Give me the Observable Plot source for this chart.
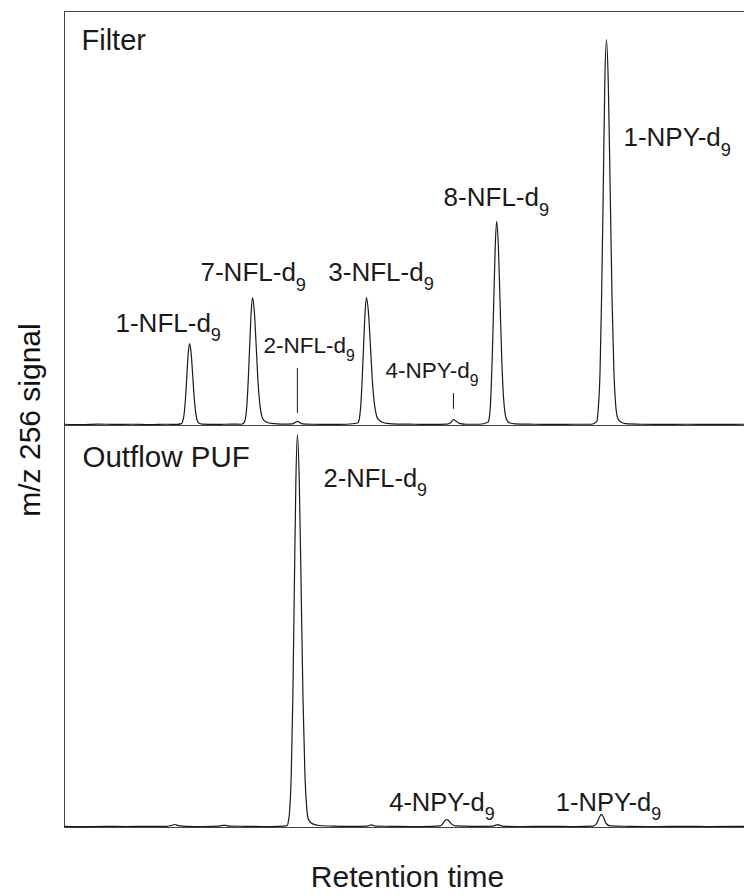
<!DOCTYPE html>
<html>
<head>
<meta charset="utf-8">
<script src="https://cdn.jsdelivr.net/npm/d3@7"></script>
<script src="https://cdn.jsdelivr.net/npm/@observablehq/plot@0.6"></script>
<style>
  body { margin: 0; background: white; }
  #wrap { position: relative; width: 744px; height: 895px; background: white; font-family: 'Liberation Sans', Arial, sans-serif; color: #111; }
  #ylab { position: absolute; left: 30px; top: 420px; transform: translate(-50%, -50%) rotate(-90deg); white-space: nowrap; font-size: 30px; }
</style>
</head>
<body>
<div id="wrap">
  <div id="top"></div>
  <div id="bottom"></div>
  <div id="ylab">m/z 256 signal</div>
</div>
<script>
// ---- Data (retention time in arbitrary minutes, signal in % of panel height) ----
const filterTime = [0.00,0.5,1.0,1.5,2.0,2.5,3.0,3.3,
  3.44,3.48,3.52,3.56,3.60,3.64,3.68,3.725,3.77,3.815,3.86,3.905,3.95,4.05,4.5,4.9,5.2,
  5.275,5.32,5.36,5.40,5.445,5.49,5.53,5.585,5.64,5.695,5.75,5.805,5.86,5.95,6.1,6.4,
  6.7,6.78,6.85,6.92,7.0,7.3,7.8,8.3,
  8.625,8.67,8.71,8.75,8.795,8.84,8.88,8.94,9.0,9.06,9.12,9.18,9.24,9.35,9.5,9.8,10.3,10.8,
  11.25,11.35,11.44,11.52,11.62,11.8,12.2,
  12.455,12.5,12.54,12.58,12.625,12.67,12.71,12.76,12.81,12.86,12.91,12.96,13.01,13.1,13.25,13.8,14.4,15.0,15.5,
  15.655,15.70,15.75,15.795,15.845,15.89,15.94,15.995,16.05,16.105,16.16,16.215,16.27,16.35,16.5,17.0,17.6,18.3,19.0,20.0];
const filterSignal = [0.3,0.2,0.35,0.25,0.3,0.2,0.3,0.25,
  0.45,1.1,2.9,6.7,12.2,17.5,19.8,17.5,12.2,6.7,3.0,1.2,0.6,0.35,0.25,0.35,0.3,
  0.6,1.6,4.4,10.2,18.9,27.3,30.9,27.3,18.9,10.2,4.8,2.2,1.3,0.8,0.5,0.35,
  0.4,0.7,1.0,0.7,0.4,0.3,0.25,0.3,
  0.6,1.6,4.4,10.2,18.9,27.3,30.9,27.3,18.9,10.2,4.9,2.3,1.4,0.8,0.5,0.35,0.3,0.25,
  0.35,0.6,1.45,1.0,0.5,0.3,0.3,
  0.8,2.2,6.9,16.2,30.0,43.5,49.3,43.5,30.0,16.2,7.0,2.8,1.3,0.6,0.4,0.3,0.25,0.3,0.3,
  1.0,4.1,12.6,30.3,56.6,82.2,93.2,82.2,56.6,30.3,12.8,4.6,1.8,0.9,0.45,0.3,0.25,0.3,0.25,0.3];

const puffTime = [0.0,0.6,1.2,1.8,2.4,3.0,3.15,3.24,3.35,3.6,4.1,4.55,4.7,4.85,5.3,5.8,6.3,6.55,
  6.58,6.625,6.67,6.715,6.76,6.805,6.85,6.905,6.96,7.015,7.07,7.125,7.18,7.3,7.5,7.9,
  8.4,8.9,9.03,9.15,9.6,10.2,10.8,
  11.05,11.13,11.2,11.24,11.3,11.38,11.5,12.0,12.6,12.74,12.88,13.5,14.2,15.0,
  15.55,15.65,15.73,15.79,15.85,15.93,16.05,16.6,17.4,18.2,19.0,20.0];
const puffSignal = [0.3,0.2,0.3,0.25,0.3,0.3,0.5,0.75,0.45,0.3,0.25,0.35,0.6,0.35,0.3,0.25,0.3,0.45,
  1.3,4.5,13.5,32.0,59.5,86.4,98.0,86.4,59.5,32.0,13.6,4.9,1.9,0.9,0.5,0.35,
  0.3,0.35,0.65,0.35,0.3,0.25,0.3,
  0.4,1.0,1.8,2.0,1.7,0.9,0.4,0.3,0.35,0.7,0.35,0.25,0.3,0.25,
  0.35,1.0,2.5,3.25,2.6,1.0,0.4,0.3,0.25,0.3,0.25,0.3];

// Peak labels (left edge time, baseline signal)
const filterLabels = ["1-NFL-d9", "7-NFL-d9", "3-NFL-d9", "8-NFL-d9", "1-NPY-d9"];
const filterLabelTime = [1.5, 4.0, 7.76, 11.15, 16.44];
const filterLabelSignal = [22.5, 34.8, 35.0, 52.9, 67.4];
const filterMinorLabels = ["2-NFL-d9", "4-NPY-d9"];
const filterMinorTime = [5.85, 9.44];
const filterMinorSignal = [17.4, 11.4];
const filterTickTime = [6.85, 11.44];
const filterTickFrom = [2.9, 3.9];
const filterTickTo = [13.8, 7.7];

const puffLabels = ["2-NFL-d9", "4-NPY-d9", "1-NPY-d9"];
const puffLabelTime = [7.62, 9.55, 14.45];
const puffLabelSignal = [85.0, 4.0, 4.0];

const panelTitles = ["Filter", "Outflow PUF"];
const xTitle = "Retention time";

// ---- helpers ----
const font = "'Liberation Sans', Arial, sans-serif";
const ink = "#1a1a1a";
const frameInk = "#444";
const rows = (xs, ys) => xs.map((x, i) => ({x, y: ys[i]}));
const lbl = (names, xs, ys) => names.map((n, i) => ({name: n, x: xs[i], y: ys[i]}));

function subscript(svg) {
  svg.querySelectorAll("text").forEach(t => {
    const s = t.textContent;
    if (/-d9$/.test(s) && t.children.length === 0) {
      t.textContent = s.slice(0, -1);
      const ts = document.createElementNS("http://www.w3.org/2000/svg", "tspan");
      ts.setAttribute("dy", "0.5em");
      ts.setAttribute("font-size", "0.7em");
      ts.textContent = "9";
      t.appendChild(ts);
    }
  });
}

const topPlot = Plot.plot({
  width: 744, height: 426,
  marginLeft: 64, marginRight: 0, marginTop: 11, marginBottom: 1,
  x: {domain: [0, 20], axis: null},
  y: {domain: [0, 100], axis: null},
  style: {fontFamily: font, background: "white", color: ink},
  marks: [
    Plot.ruleY([100], {stroke: frameInk}),
    Plot.ruleY([0], {stroke: frameInk}),
    Plot.ruleX([0], {stroke: frameInk}),
    Plot.line(rows(filterTime, filterSignal), {x: "x", y: "y", curve: "monotone-x", stroke: ink, strokeWidth: 1.2}),
    Plot.ruleX(filterTickTime.map((t, i) => ({x: t, y1: filterTickFrom[i], y2: filterTickTo[i]})), {x: "x", y1: "y1", y2: "y2", stroke: ink, strokeWidth: 1}),
    Plot.text(lbl(filterLabels, filterLabelTime, filterLabelSignal), {x: "x", y: "y", text: "name", textAnchor: "start", lineAnchor: "bottom", fontSize: 26, fill: ink}),
    Plot.text(lbl(filterMinorLabels, filterMinorTime, filterMinorSignal), {x: "x", y: "y", text: "name", textAnchor: "start", lineAnchor: "bottom", fontSize: 22.5, fill: ink}),
    Plot.text([panelTitles[0]], {frameAnchor: "top-left", textAnchor: "start", lineAnchor: "top", dx: 17, dy: 18, fontSize: 29, fill: ink})
  ]
});

const bottomPlot = Plot.plot({
  width: 744, height: 470,
  marginLeft: 64, marginRight: 0, marginTop: 0, marginBottom: 69,
  x: {domain: [0, 20], axis: null},
  y: {domain: [0, 100], axis: null},
  style: {fontFamily: font, background: "white", color: ink},
  marks: [
    Plot.ruleY([0], {stroke: frameInk}),
    Plot.ruleX([0], {stroke: frameInk}),
    Plot.line(rows(puffTime, puffSignal), {x: "x", y: "y", curve: "monotone-x", stroke: ink, strokeWidth: 1.2}),
    Plot.text(lbl(puffLabels, puffLabelTime, puffLabelSignal), {x: "x", y: "y", text: "name", textAnchor: "start", lineAnchor: "bottom", fontSize: 25.5, fill: ink}),
    Plot.text([panelTitles[1]], {frameAnchor: "top-left", textAnchor: "start", lineAnchor: "top", dx: 18, dy: 20, fontSize: 29.5, fill: ink}),
    Plot.text([xTitle], {frameAnchor: "bottom", textAnchor: "middle", lineAnchor: "bottom", dx: 3, dy: 59, fontSize: 30, fill: ink})
  ]
});

subscript(topPlot);
subscript(bottomPlot);
topPlot.style.display = "block";
bottomPlot.style.display = "block";
document.getElementById("top").appendChild(topPlot);
document.getElementById("bottom").appendChild(bottomPlot);
</script>
</body>
</html>
